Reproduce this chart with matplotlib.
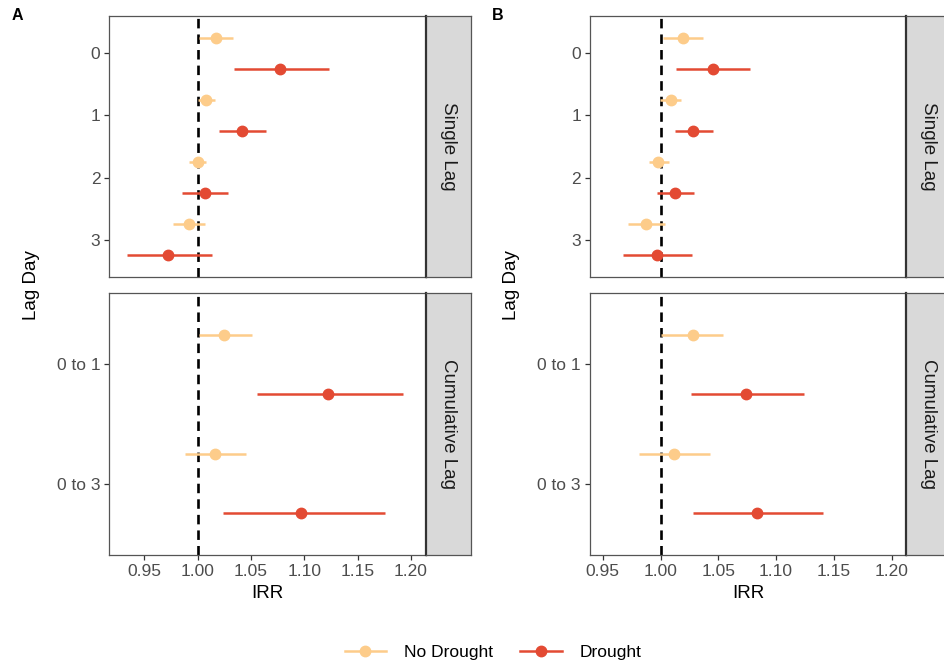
import numpy as np
import matplotlib
matplotlib.use("Agg")
import matplotlib.pyplot as plt
from matplotlib.lines import Line2D

plt.rcParams['font.family'] = ['Liberation Sans', 'DejaVu Sans']

# IRR estimates with 95% CI, panel A and panel B
single_labels = ["0", "1", "2", "3"]
cum_labels = ["0 to 1", "0 to 3"]

# panel A
a_single_nd = [1.017, 1.008, 1.000, 0.9915]
a_single_nd_lo = [1.001, 1.000, 0.992, 0.977]
a_single_nd_hi = [1.033, 1.016, 1.008, 1.007]
a_single_d = [1.0775, 1.0415, 1.0065, 0.9725]
a_single_d_lo = [1.0345, 1.020, 0.985, 0.9335]
a_single_d_hi = [1.123, 1.064, 1.028, 1.0135]
a_cum_nd = [1.025, 1.0163]
a_cum_nd_lo = [1.0013, 0.988]
a_cum_nd_hi = [1.0507, 1.0453]
a_cum_d = [1.122, 1.097]
a_cum_d_lo = [1.056, 1.0238]
a_cum_d_hi = [1.192, 1.1757]

# panel B
b_single_nd = [1.0196, 1.0088, 0.9975, 0.9877]
b_single_nd_lo = [1.0018, 0.9998, 0.9897, 0.9717]
b_single_nd_hi = [1.037, 1.0178, 1.007, 1.0042]
b_single_d = [1.045, 1.0285, 1.0126, 0.997]
b_single_d_lo = [1.0135, 1.0126, 0.9972, 0.9677]
b_single_d_hi = [1.0775, 1.0453, 1.0288, 1.0274]
b_cum_nd = [1.0277, 1.0117]
b_cum_nd_lo = [1.0007, 0.9816]
b_cum_nd_hi = [1.0543, 1.043]
b_cum_d = [1.0743, 1.0833]
b_cum_d_lo = [1.0262, 1.0283]
b_cum_d_hi = [1.1244, 1.141]

xticks = [0.95, 1.00, 1.05, 1.10, 1.15, 1.20]
xlim_a = (0.9174, 1.2140)
xlim_b = (0.9390, 1.2124)

col_nd = "#FDCC8A"
col_d = "#E34A33"
border = "#333333"
W, H = 945, 665


def px(x0, y0, x1, y1):
    return [x0 / W, 1 - y1 / H, (x1 - x0) / W, (y1 - y0) / H]


def draw(ax, est_nd, lo_nd, hi_nd, est_d, lo_d, hi_d, labels, xlim):
    pos = np.arange(len(labels))
    ax.axvline(1.0, color="black", lw=1.9, ls=(0, (3.6, 2.3)), zorder=1)
    ax.hlines(pos - 0.25, lo_nd, hi_nd, color=col_nd, lw=1.8, zorder=2)
    ax.plot(est_nd, pos - 0.25, "o", color=col_nd, ms=7.5, zorder=3)
    ax.hlines(pos + 0.25, lo_d, hi_d, color=col_d, lw=1.8, zorder=2)
    ax.plot(est_d, pos + 0.25, "o", color=col_d, ms=7.5, zorder=3)
    ax.set_ylim(len(labels) - 0.4, -0.6)
    ax.set_yticks(pos)
    ax.set_yticklabels(labels)
    ax.set_xlim(*xlim)
    ax.set_xticks(xticks)
    ax.set_xticklabels(["%.2f" % t for t in xticks])
    for s in ax.spines.values():
        s.set_color("#555555")
        s.set_linewidth(0.9)
    ax.tick_params(colors=border, labelcolor="#4D4D4D", labelsize=12.5,
                   length=3.5, width=0.9, pad=3)


def strip(rect, text):
    sax = fig.add_axes(rect)
    sax.set_facecolor("#D9D9D9")
    sax.set_xticks([])
    sax.set_yticks([])
    for s in sax.spines.values():
        s.set_color("#555555")
        s.set_linewidth(0.9)
    sax.spines["left"].set_color(border)
    sax.spines["left"].set_linewidth(1.6)
    sax.text(0.5, 0.5, text, rotation=270, ha="center", va="center",
             fontsize=13.5, color="#1A1A1A", transform=sax.transAxes)


fig = plt.figure(figsize=(9.45, 6.65), dpi=100)

panels = [
    (109.5, 426, 471, "A", 12, xlim_a,
     (a_single_nd, a_single_nd_lo, a_single_nd_hi, a_single_d, a_single_d_lo, a_single_d_hi),
     (a_cum_nd, a_cum_nd_lo, a_cum_nd_hi, a_cum_d, a_cum_d_lo, a_cum_d_hi)),
    (590, 906, 951, "B", 492, xlim_b,
     (b_single_nd, b_single_nd_lo, b_single_nd_hi, b_single_d, b_single_d_lo, b_single_d_hi),
     (b_cum_nd, b_cum_nd_lo, b_cum_nd_hi, b_cum_d, b_cum_d_lo, b_cum_d_hi)),
]

for left, right, sright, tag, tagx, xl, single, cum in panels:
    ax1 = fig.add_axes(px(left, 16, right, 277))
    draw(ax1, *single, single_labels, xl)
    ax1.tick_params(axis="x", bottom=False, labelbottom=False)
    strip(px(right, 16, sright, 277), "Single Lag")

    ax2 = fig.add_axes(px(left, 293, right, 555))
    draw(ax2, *cum, cum_labels, xl)
    ax2.set_xlabel("IRR", fontsize=13.5, labelpad=4)
    strip(px(right, 293, sright, 555), "Cumulative Lag")

    fig.text(tagx / W, 1 - 16 / H, tag, fontsize=11.5, fontweight="bold",
             ha="left", va="center")
    fig.text((left - 78) / W, 1 - 285 / H, "Lag Day", rotation=90,
             fontsize=13.5, ha="center", va="center")

handles = [
    Line2D([], [], color=col_nd, lw=1.8, marker="o", ms=7.5),
    Line2D([], [], color=col_d, lw=1.8, marker="o", ms=7.5),
]
fig.legend(handles, ["No Drought", "Drought"], loc="center", ncol=2,
           bbox_to_anchor=(493 / W, 1 - 652 / H), frameon=False,
           fontsize=12.5, handlelength=2.4, columnspacing=1.6, handletextpad=1.0)

fig.savefig("out.png", dpi=100, facecolor="white")
